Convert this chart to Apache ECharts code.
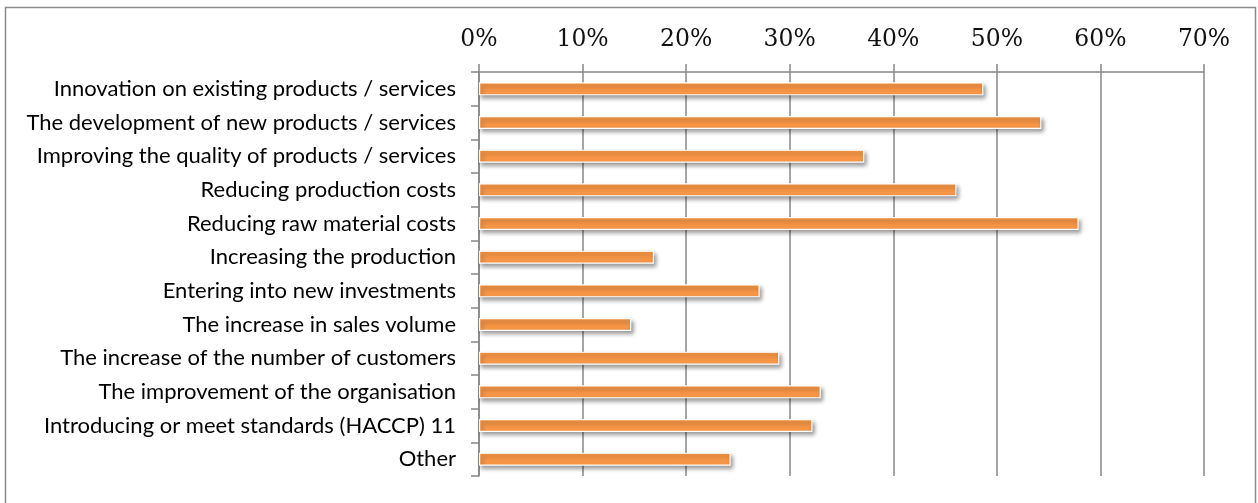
<!DOCTYPE html>
<html>
<head>
<meta charset="utf-8">
<script src="https://cdn.jsdelivr.net/npm/echarts@6/dist/echarts.min.js"></script>
<style>
  html, body { margin: 0; padding: 0; background: #fff; }
  #chart { width: 1258px; height: 503px; }
</style>
</head>
<body>
<div id="chart"></div>
<script>
// Survey: expected effects of the investment (share of respondents, %)
const categories = [
  'Innovation on existing products / services',
  'The development of new products / services',
  'Improving the quality of products / services',
  'Reducing production costs',
  'Reducing raw material costs',
  'Increasing the production',
  'Entering into new investments',
  'The increase in sales volume',
  'The increase of the number of customers',
  'The improvement of the organisation',
  'Introducing or meet standards (HACCP) 11',
  'Other'
];
const shares = [48.7, 54.3, 37.2, 46.1, 57.9, 16.9, 27.1, 14.7, 29.0, 33.0, 32.2, 24.3];
const axisMax = 70;
const axisStep = 10;

const gray = '#878787';
const chart = echarts.init(document.getElementById('chart'), null, { renderer: 'canvas' });

chart.setOption({
  animation: false,
  backgroundColor: '#fff',
  grid: { left: 479, top: 72, right: 54, bottom: 27, containLabel: false },
  graphic: [{
    type: 'rect',
    shape: { x: 5.5, y: 7.5, width: 1250, height: 520 },
    style: { fill: 'none', stroke: '#8a8a8a', lineWidth: 1.5 },
    silent: true,
    z: -1
  }],
  xAxis: {
    type: 'value',
    position: 'top',
    min: 0,
    max: axisMax,
    interval: axisStep,
    axisLine: { show: true, lineStyle: { color: gray, width: 1.5 } },
    axisTick: { show: true, inside: false, length: 8, lineStyle: { color: gray, width: 1.5 } },
    splitLine: { show: true, lineStyle: { color: gray, width: 1.5 } },
    axisLabel: {
      formatter: '{value}%',
      fontFamily: 'DejaVu Serif',
      fontSize: 23.5,
      color: '#111',
      margin: 20
    }
  },
  yAxis: {
    type: 'category',
    data: categories,
    inverse: true,
    axisLine: { show: true, lineStyle: { color: gray, width: 1.5 } },
    axisTick: { show: true, inside: false, length: 8, interval: 0, lineStyle: { color: gray, width: 1.5 } },
    axisLabel: {
      fontFamily: 'Lato',
      fontSize: 22,
      color: '#000',
      margin: 23,
      interval: 0
    },
    splitLine: { show: false }
  },
  series: [{
    type: 'bar',
    data: shares,
    barWidth: 13,
    itemStyle: {
      color: '#F79646',
      borderColor: '#ffffff',
      borderWidth: 1.2,
      shadowColor: 'rgba(0,0,0,0.4)',
      shadowBlur: 4,
      shadowOffsetX: 2,
      shadowOffsetY: 3
    },
    z: 3
  }]
});
</script>
</body>
</html>
